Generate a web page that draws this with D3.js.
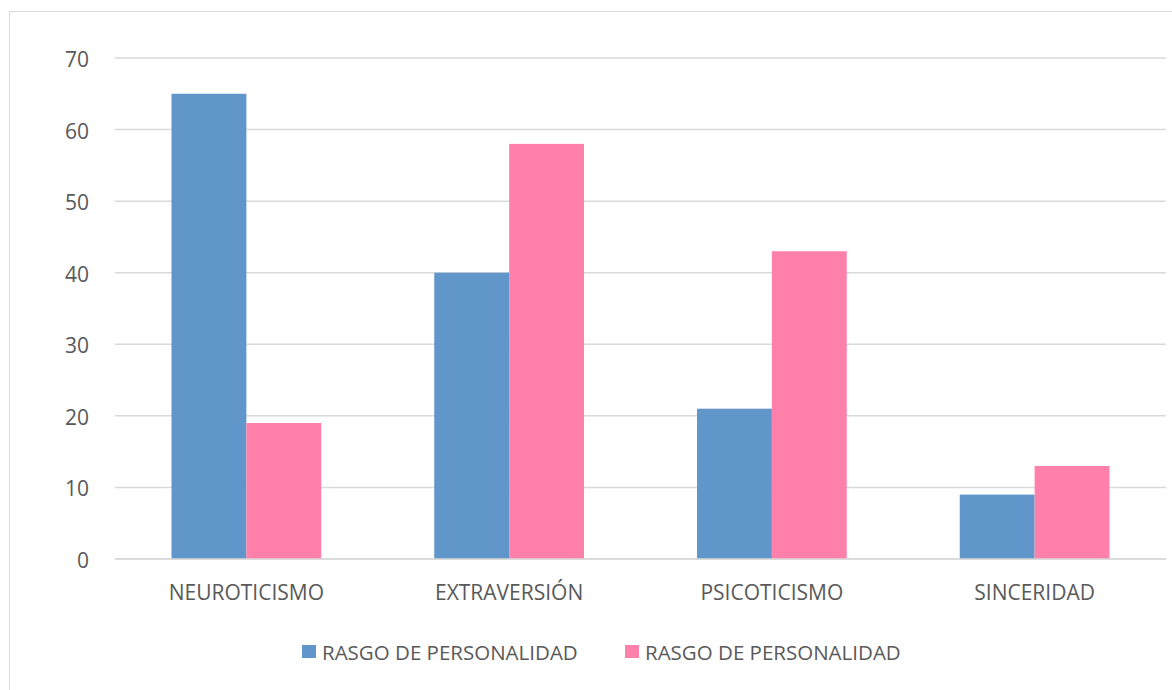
<!DOCTYPE html>
<html>
<head>
<meta charset="utf-8">
<script src="https://cdn.jsdelivr.net/npm/d3@7"></script>
<style>
  html, body { margin: 0; padding: 0; background: #fff; }
  svg { display: block; }
  text { font-family: "Open Sans", "Liberation Sans", sans-serif; fill: #595959; }
</style>
</head>
<body>
<svg id="chart" width="1172" height="690"></svg>
<script>
const categories = ["NEUROTICISMO", "EXTRAVERSIÓN", "PSICOTICISMO", "SINCERIDAD"];
const seriesNames = ["RASGO DE PERSONALIDAD", "RASGO DE PERSONALIDAD"];
const seriesA = [65, 40, 21, 9];
const seriesB = [19, 58, 43, 13];
const yTicks = [0, 10, 20, 30, 40, 50, 60, 70];
const colors = ["#6096C9", "#FF81AB"];

const svg = d3.select("#chart");
const W = 1172, H = 690;
const plot = { left: 115, right: 1166, top: 58, bottom: 559 };

// outer frame
svg.append("rect")
  .attr("x", 9.5).attr("y", 11.5)
  .attr("width", W + 10).attr("height", H + 10)
  .attr("fill", "#fff").attr("stroke", "#D9D9D9").attr("stroke-width", 1);

const x0 = d3.scaleBand().domain(categories).range([plot.left, plot.right]).paddingInner(0.43).paddingOuter(0.215);
const x1 = d3.scaleBand().domain([0, 1]).range([0, x0.bandwidth()]);
const y = d3.scaleLinear().domain([0, 70]).range([plot.bottom, plot.top]);

// gridlines
svg.append("g").selectAll("line").data(yTicks).join("line")
  .attr("x1", plot.left).attr("x2", plot.right)
  .attr("y1", d => y(d)).attr("y2", d => y(d))
  .attr("stroke", "#D9D9D9").attr("stroke-width", 1.5);

// y tick labels
svg.append("g").selectAll("text").data(yTicks).join("text")
  .attr("x", 89).attr("y", d => y(d) + 9)
  .attr("text-anchor", "end")
  .style("font-size", "21px")
  .text(d => d);

const rows = categories.map((c, i) => ({ cat: c, vals: [seriesA[i], seriesB[i]] }));

// bars
const groups = svg.append("g").selectAll("g").data(rows).join("g")
  .attr("transform", d => `translate(${x0(d.cat)},0)`);
groups.selectAll("rect").data(d => d.vals.map((v, k) => ({ v, k }))).join("rect")
  .attr("x", d => x1(d.k)).attr("width", x1.bandwidth())
  .attr("y", d => y(d.v)).attr("height", d => y(0) - y(d.v))
  .attr("fill", d => colors[d.k]);

// baseline
svg.append("line")
  .attr("x1", plot.left).attr("x2", plot.right)
  .attr("y1", y(0)).attr("y2", y(0))
  .attr("stroke", "#D9D9D9").attr("stroke-width", 1.5);

// category labels
svg.append("g").selectAll("text").data(categories).join("text")
  .attr("x", d => x0(d) + x0.bandwidth() / 2).attr("y", 600)
  .attr("text-anchor", "middle")
  .style("font-size", "21px")
  .text(d => d);

// legend
const legendItems = [
  { name: seriesNames[0], color: colors[0], x: 302 },
  { name: seriesNames[1], color: colors[1], x: 625 }
];
const lg = svg.append("g").selectAll("g").data(legendItems).join("g")
  .attr("transform", d => `translate(${d.x},645)`);
lg.append("rect").attr("width", 14).attr("height", 13).attr("fill", d => d.color);
lg.append("text").attr("x", 20).attr("y", 15)
  .style("font-size", "20.5px")
  .text(d => d.name);
</script>
</body>
</html>
